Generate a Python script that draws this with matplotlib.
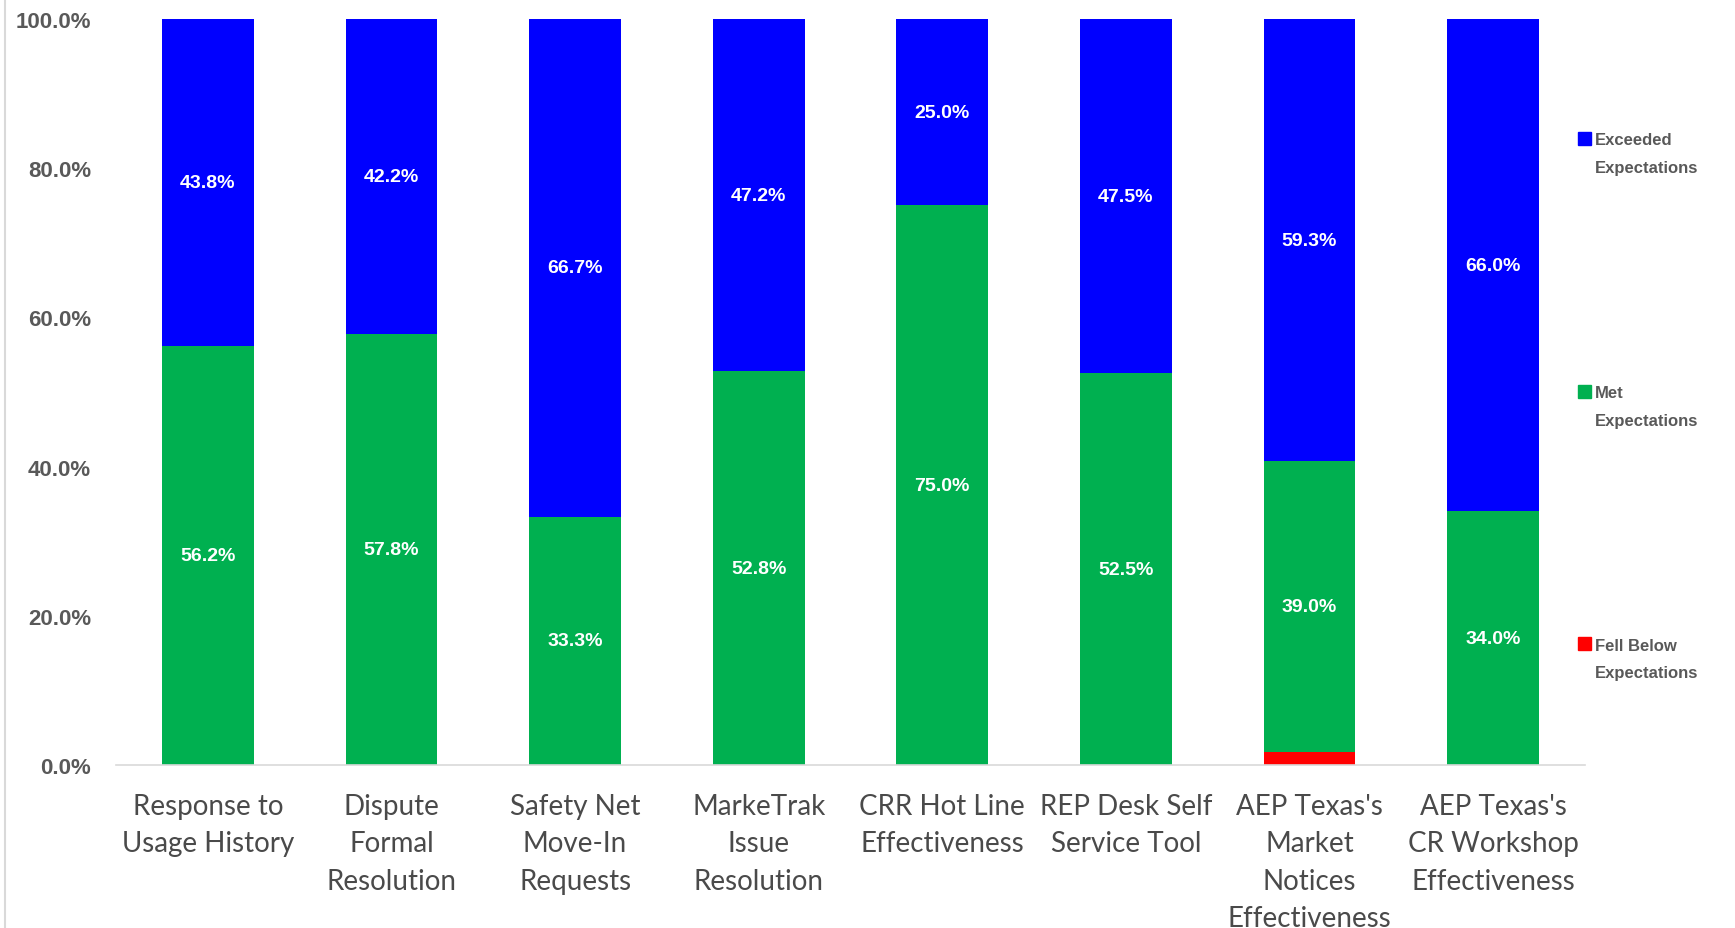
import matplotlib
matplotlib.use("Agg")
import matplotlib.pyplot as plt
from matplotlib.lines import Line2D
import numpy as np

categories = [
    "Response to\nUsage History",
    "Dispute\nFormal\nResolution",
    "Safety Net\nMove-In\nRequests",
    "MarkeTrak\nIssue\nResolution",
    "CRR Hot Line\nEffectiveness",
    "REP Desk Self\nService Tool",
    "AEP Texas's\nMarket\nNotices\nEffectiveness",
    "AEP Texas's\nCR Workshop\nEffectiveness",
]
fell_below = [0.0, 0.0, 0.0, 0.0, 0.0, 0.0, 1.7, 0.0]
met = [56.2, 57.8, 33.3, 52.8, 75.0, 52.5, 39.0, 34.0]
exceeded = [43.8, 42.2, 66.7, 47.2, 25.0, 47.5, 59.3, 66.0]

series = [
    ("Fell Below\nExpectations", fell_below, "#FF0000", False),
    ("Met\nExpectations", met, "#00B050", True),
    ("Exceeded\nExpectations", exceeded, "#0000FF", True),
]

grey = "#595959"
font = "Lato"
bold_font = "Liberation Sans"

fig = plt.figure(figsize=(17.35, 9.29), dpi=100)
ax = fig.add_axes([0.0669, 0.1755, 0.8466, 0.803])

x = np.arange(len(categories))
bottom = np.zeros(len(categories))
for name, vals, color, labelled in series:
    vals = np.array(vals) / 100.0
    ax.bar(x, vals, width=0.5, bottom=bottom, color=color, label=name)
    if labelled:
        for xi, b, v in zip(x, bottom, vals):
            if v > 0:
                ax.text(xi, b + v / 2, f"{v * 100:.1f}%", ha="center", va="center",
                        color="white", fontsize=14, fontweight="bold", family=bold_font)
    bottom += vals

ax.set_xlim(-0.5, 7.5)
ax.set_ylim(0, 1.0)
ax.set_yticks(np.arange(0, 1.01, 0.2))
ax.set_yticklabels([f"{t * 100:.1f}%" for t in np.arange(0, 1.01, 0.2)],
                   fontsize=16, fontweight="bold", color=grey, family=bold_font)
ax.set_xticks(x)
ax.set_xticklabels(categories, fontsize=20, color="#4a4a4a", family=font,
                   linespacing=1.55)
ax.tick_params(axis="both", length=0)
ax.tick_params(axis="x", pad=20)
ax.tick_params(axis="y", pad=18)
for s in ["top", "right", "left"]:
    ax.spines[s].set_visible(False)
ax.spines["bottom"].set_color("#D9D9D9")
ax.spines["bottom"].set_linewidth(1.2)

# legend entries placed down the right-hand side
legend_y = [0.849, 0.577, 0.305]
for (name, vals, color, _), yy in zip(series[::-1], legend_y):
    fig.patches.append(plt.Rectangle((0.9095, yy - 0.006), 0.0075, 0.014,
                                     transform=fig.transFigure, color=color))
    fig.text(0.9195, yy + 0.0075, name, ha="left", va="top", fontsize=12,
             color=grey, family=bold_font, fontweight="bold", linespacing=2.05)

# outer frame line on the left edge
fig.add_artist(Line2D([0.003, 0.003], [0.0, 1.0], color="#D9D9D9", lw=1.5,
                      transform=fig.transFigure))

fig.savefig("out.png", dpi=100, facecolor="white")
